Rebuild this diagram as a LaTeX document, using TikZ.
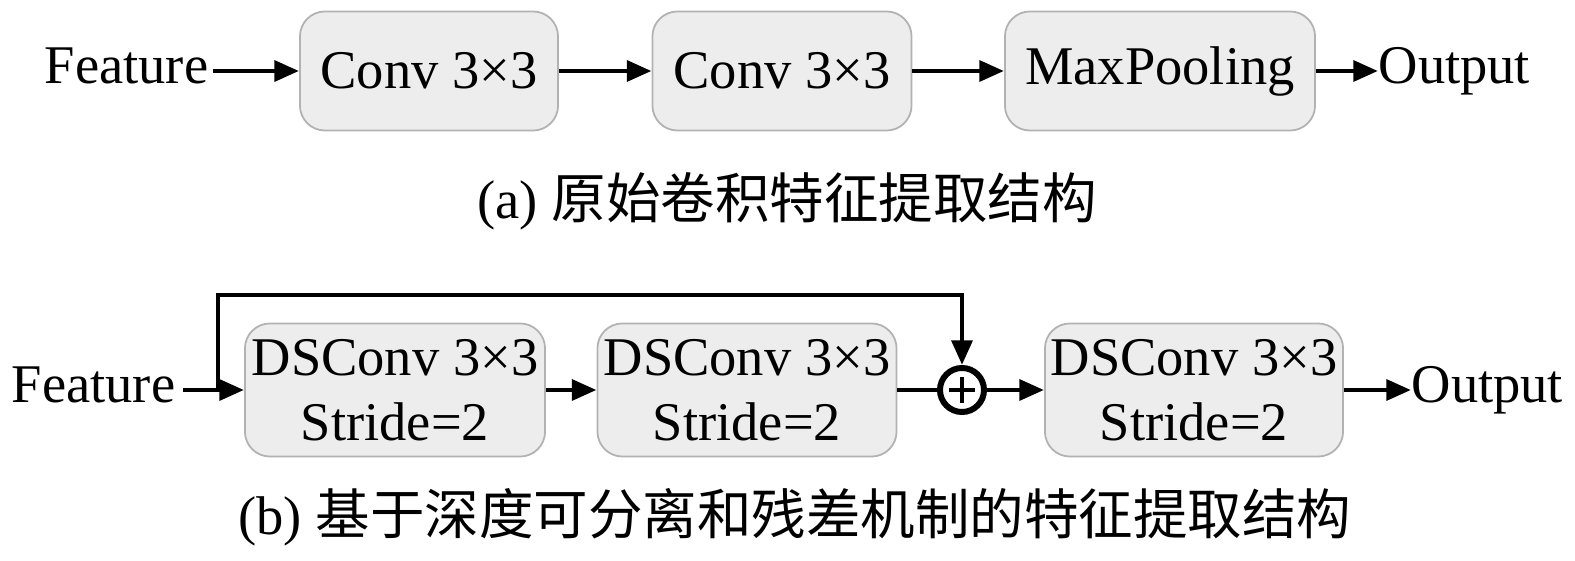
\documentclass[tikz,border=0pt]{standalone}
\usepackage{fontspec}
\setmainfont{Liberation Serif}
\newfontfamily\cjk{Noto Sans CJK SC}
\usetikzlibrary{arrows.meta, positioning, calc}

\begin{document}
\begin{tikzpicture}[x=0.01cm, y=-0.01cm,
    every node/.style={font=\fontsize{15.5}{18.5}\selectfont},
    block/.style={draw=black!30, fill=black!7, rounded corners=0.25cm, line width=0.5pt, align=center, inner sep=0pt},
    label/.style={inner sep=0pt},
    arr/.style={-{Triangle[length=7pt,width=5.8pt]}, line width=1.4pt},
    link/.style={line width=1.4pt}]
    \useasboundingbox (0,0) rectangle (1575,561);

    % (a) original convolution branch
    \node[block, minimum width=2.58cm, minimum height=1.19cm] (conv1) at (429,71) {Conv 3×3};
    \node[block, minimum width=2.59cm, minimum height=1.19cm] (conv2) at (782,71) {Conv 3×3};
    \node[block, minimum width=3.10cm, minimum height=1.19cm] (pool) at (1160,71) {MaxPooling};
    \node[label, anchor=base east] (feat1) at (209,84) {Feature};
    \node[label, anchor=base west] (out1) at (1378,84) {Output};

    \draw[arr] ([xshift=1pt]feat1.east |- conv1) -- (conv1.west);
    \draw[arr] (conv1) -- (conv2);
    \draw[arr] (conv2) -- (pool);
    \draw[arr] (pool.east) -- (out1.west |- pool);

    \node (capa) at (787,201) {(a) {\cjk 原始卷积特征提取结构}};

    % (b) depthwise separable branch with residual
    \node[block, minimum width=3.00cm, minimum height=1.33cm] (ds1) at (395,390) {DSConv 3×3\\Stride=2};
    \node[block, minimum width=2.99cm, minimum height=1.33cm] (ds2) at (747,390) {DSConv 3×3\\Stride=2};
    \node[circle, draw, line width=1.7pt, minimum size=0.44cm, inner sep=0pt] (sum) at (962,390) {};
    \node[block, minimum width=2.98cm, minimum height=1.33cm] (ds3) at (1194,390) {DSConv 3×3\\Stride=2};
    \node[label, anchor=base east] (feat2) at (176,403) {Feature};
    \node[label, anchor=base west] (out2) at (1411,403) {Output};

    % plus sign
    \draw[line width=1.2pt] ($(sum)+(-13,0)$) -- ($(sum)+(13,0)$);
    \draw[line width=1.2pt] ($(sum)+(0,-13)$) -- ($(sum)+(0,13)$);

    \coordinate (split) at (218,390);
    \coordinate (skip) at (218,295);

    \draw[arr] ([xshift=2pt]feat2.east |- ds1) -- (ds1.west);
    \draw[arr] (ds1) -- (ds2);
    \draw[link] (ds2) -- (sum);
    \draw[arr] (sum) -- (ds3);
    \draw[arr] (ds3.east) -- (out2.west |- ds3);
    \draw[arr] (split) -- (skip) -| (sum.north);

    \node (capb) at (795,517) {(b) {\cjk 基于深度可分离和残差机制的特征提取结构}};
\end{tikzpicture}
\end{document}
